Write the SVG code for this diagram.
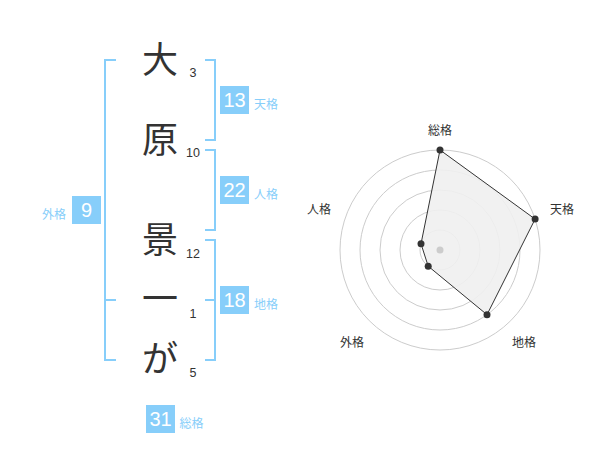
<svg xmlns="http://www.w3.org/2000/svg" width="600" height="470" viewBox="0 0 600 470">
<style>
.ch{font-family:"Noto Sans CJK JP","Noto Sans",sans-serif;font-size:36px;fill:#333;text-anchor:middle}
.st{font-family:"Liberation Sans",Arial,sans-serif;font-size:12.5px;fill:#333;text-anchor:middle}
.br{fill:none;stroke:#87cefa;stroke-width:2}
.bx{fill:#87cefa}
.bn{font-family:"Liberation Sans",Arial,sans-serif;font-size:20px;fill:#fff;text-anchor:middle}
.bl{font-family:"Noto Sans CJK JP","Noto Sans",sans-serif;font-size:12px;fill:#87cefa}
.ring{fill:none;stroke:#ccc;stroke-width:1}
.rl{font-family:"Noto Sans CJK JP","Noto Sans",sans-serif;font-size:12px;fill:#333;text-anchor:middle}
.pt{fill:#333}
</style>
<rect width="600" height="470" fill="#fff"/>
<g id="name">
<text class="ch" x="160" y="73">大</text>
<text class="ch" x="160" y="153">原</text>
<text class="ch" x="160" y="253">景</text>
<text class="ch" x="160" y="312">一</text>
<text class="ch" x="160" y="372">が</text>
<text class="st" x="193" y="77">3</text>
<text class="st" x="193" y="157">10</text>
<text class="st" x="193" y="258">12</text>
<text class="st" x="193" y="318">1</text>
<text class="st" x="193" y="377">5</text>
</g>
<g id="connectors">
<path class="br" d="M116,60 H105 V360 H116 M105,300 H116"/>
<path class="br" d="M205,60 H215 V140 H205"/>
<path class="br" d="M205,150 H215 V230 H205"/>
<path class="br" d="M205,240 H215 V360 H205 M205,300 H215"/>
</g>
<g id="tenkaku">
<rect class="bx" x="220" y="86" width="29" height="28"/>
<text class="bn" x="234.5" y="107">13</text>
<text class="bl" x="254" y="108.5">天格</text>
</g>
<g id="jinkaku">
<rect class="bx" x="220" y="176" width="29" height="28"/>
<text class="bn" x="234.5" y="197">22</text>
<text class="bl" x="254" y="198.5">人格</text>
</g>
<g id="chikaku">
<rect class="bx" x="220" y="286" width="29" height="28"/>
<text class="bn" x="234.5" y="307">18</text>
<text class="bl" x="254" y="308.5">地格</text>
</g>
<g id="gaikaku">
<rect class="bx" x="72" y="196" width="29" height="28"/>
<text class="bn" x="86.5" y="217">9</text>
<text class="bl" x="66" y="218.5" text-anchor="end">外格</text>
</g>
<g id="soukaku">
<rect class="bx" x="146" y="405" width="29" height="28"/>
<text class="bn" x="160.5" y="426">31</text>
<text class="bl" x="179.5" y="427.5">総格</text>
</g>
<g id="radar">
<circle class="ring" cx="440" cy="250" r="20"/>
<circle class="ring" cx="440" cy="250" r="40"/>
<circle class="ring" cx="440" cy="250" r="60"/>
<circle class="ring" cx="440" cy="250" r="80"/>
<circle class="ring" cx="440" cy="250" r="100"/>
<polygon points="440,150 535.1,219.1 487,314.7 428.2,266.2 421,243.8" fill="#efefef" fill-opacity="0.9" stroke="#333" stroke-width="1"/>
<circle cx="440" cy="250" r="3.5" fill="#ccc"/>
<circle class="pt" cx="440" cy="150" r="3.5"/>
<circle class="pt" cx="535.1" cy="219.1" r="3.5"/>
<circle class="pt" cx="487" cy="314.7" r="3.5"/>
<circle class="pt" cx="428.2" cy="266.2" r="3.5"/>
<circle class="pt" cx="421" cy="243.8" r="3.5"/>
<text class="rl" x="440" y="135">総格</text>
<text class="rl" x="562" y="213.5">天格</text>
<text class="rl" x="524" y="346.5">地格</text>
<text class="rl" x="352" y="346.5">外格</text>
<text class="rl" x="319" y="213.5">人格</text>
</g>
</svg>
